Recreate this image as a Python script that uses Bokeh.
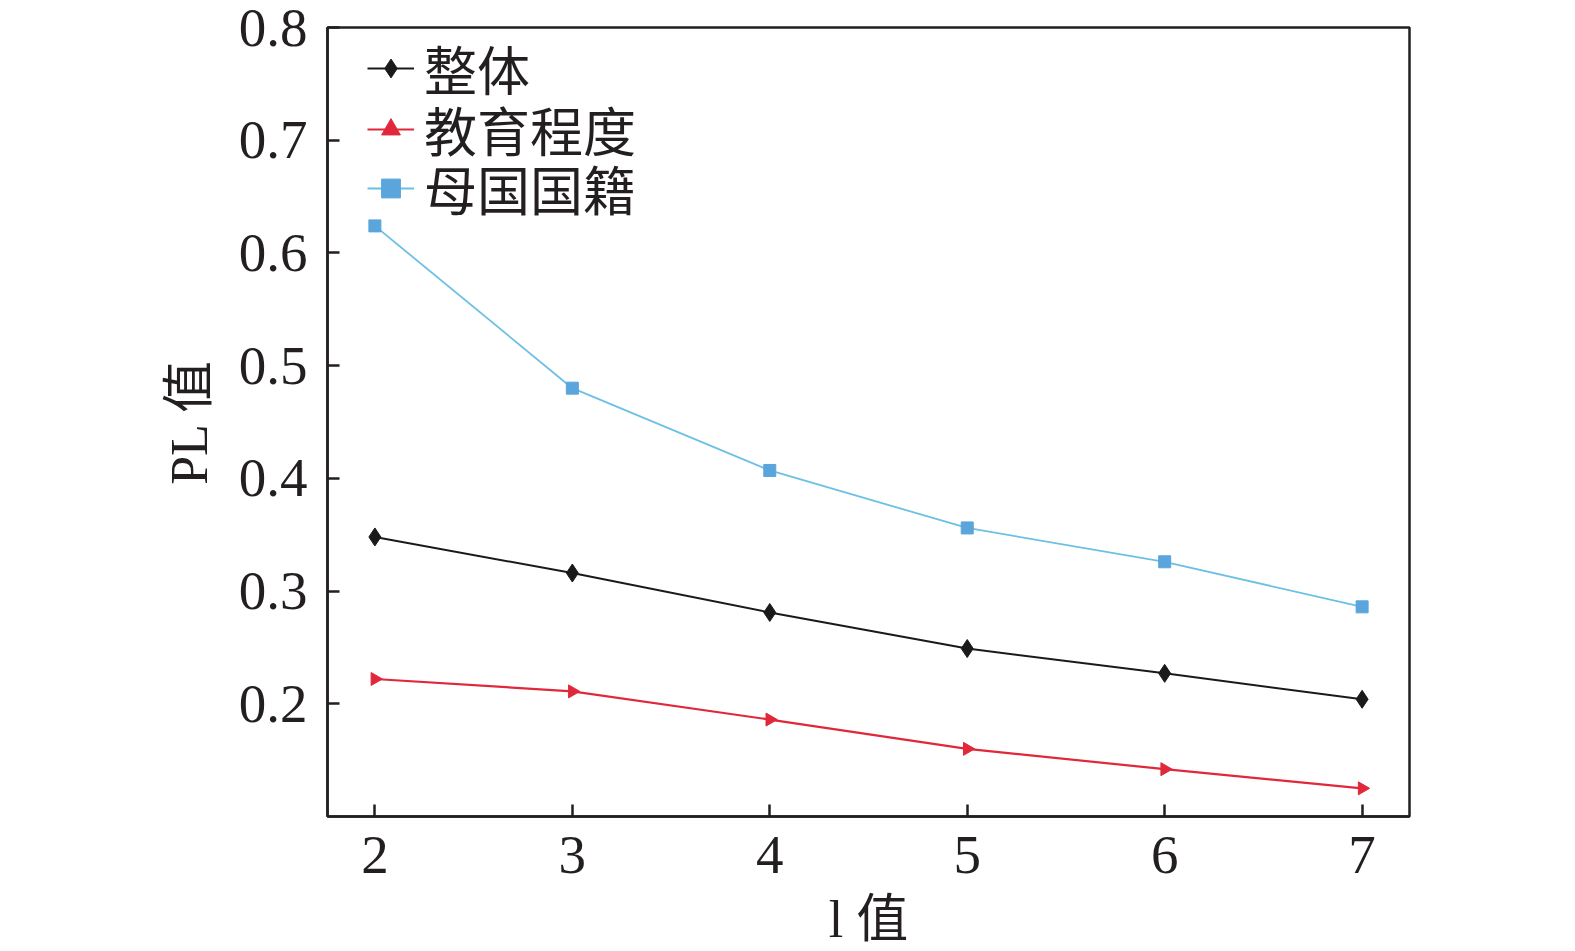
import math
from bokeh.plotting import figure
from bokeh.models import Range1d, FixedTicker, Legend, LegendItem
from bokeh.embed import file_html
from bokeh.resources import INLINE

l_values = [2, 3, 4, 5, 6, 7]
overall = [0.348, 0.316, 0.281, 0.249, 0.227, 0.204]
education = [0.222, 0.211, 0.186, 0.160, 0.142, 0.125]
nationality = [0.624, 0.480, 0.407, 0.356, 0.326, 0.286]
series_names = ["整体", "教育程度", "母国国籍"]
x_ticks = [2, 3, 4, 5, 6, 7]
y_ticks = [0.2, 0.3, 0.4, 0.5, 0.6, 0.7, 0.8]

FONT = "Liberation Serif, 'Noto Sans CJK SC', serif"

p = figure(width=1558, height=952, output_backend="svg", toolbar_location=None,
           x_range=Range1d(1.76, 7.24), y_range=Range1d(0.1, 0.8),
           min_border_left=327, min_border_right=149, min_border_top=27, min_border_bottom=136)
p.background_fill_color = "white"
p.border_fill_color = "white"
p.outline_line_color = "#231f20"
p.outline_line_width = 2.5
p.xgrid.visible = False
p.ygrid.visible = False

for ax in (p.xaxis[0], p.yaxis[0]):
    ax.axis_line_color = "#231f20"
    ax.axis_line_width = 2.5
    ax.major_tick_in = 12
    ax.major_tick_out = 0
    ax.major_tick_line_width = 2.5
    ax.major_tick_line_color = "#231f20"
    ax.minor_tick_line_color = None
    ax.major_label_text_font = FONT
    ax.major_label_text_font_size = "55px"
    ax.major_label_text_color = "#231f20"
    ax.axis_label_text_font = FONT
    ax.axis_label_text_font_size = "52px"
    ax.axis_label_text_font_style = "normal"
    ax.axis_label_text_color = "#231f20"

p.xaxis[0].ticker = FixedTicker(ticks=x_ticks)
p.yaxis[0].ticker = FixedTicker(ticks=y_ticks)
p.xaxis[0].major_label_standoff = 20
p.yaxis[0].major_label_standoff = 20
p.yaxis[0].axis_label = "PL 值"
p.yaxis[0].axis_label_standoff = 18
p.xaxis[0].axis_label = "l 值"
p.xaxis[0].axis_label_standoff = 15

black = "#1a1a1a"
red = "#e0283a"
blue_line = "#6cc0e4"
blue_mark = "#5aa5dc"

l1 = p.line(l_values, overall, line_color=black, line_width=2)
m1 = p.scatter(l_values, overall, marker="diamond", size=18, fill_color=black, line_color=black)
l2 = p.line(l_values, education, line_color=red, line_width=2.2)
m2 = p.scatter(l_values, education, marker="triangle", angle=-math.pi / 2, size=13,
               fill_color=red, line_color=red)
l3 = p.line(l_values, nationality, line_color=blue_line, line_width=1.8)
m3 = p.scatter(l_values, nationality, marker="square", size=12, fill_color=blue_mark, line_color=blue_mark)

renderer_pairs = [[l1, m1], [l2, m2], [l3, m3]]
legend_bottoms = [710, 649, 590]
for name, rends, bottom in zip(series_names, renderer_pairs, legend_bottoms):
    lg = Legend(items=[LegendItem(label=name, renderers=rends)], location=(40, bottom))
    lg.border_line_color = None
    lg.background_fill_alpha = 0
    lg.padding = 0
    lg.margin = 0
    lg.spacing = 0
    lg.label_height = 60
    lg.glyph_height = 60
    lg.glyph_width = 47
    lg.label_standoff = 10
    lg.label_text_font = FONT
    lg.label_text_font_size = "53px"
    lg.label_text_color = "#231f20"
    p.add_layout(lg, "center")

open("out.html", "w").write(file_html(p, INLINE))
